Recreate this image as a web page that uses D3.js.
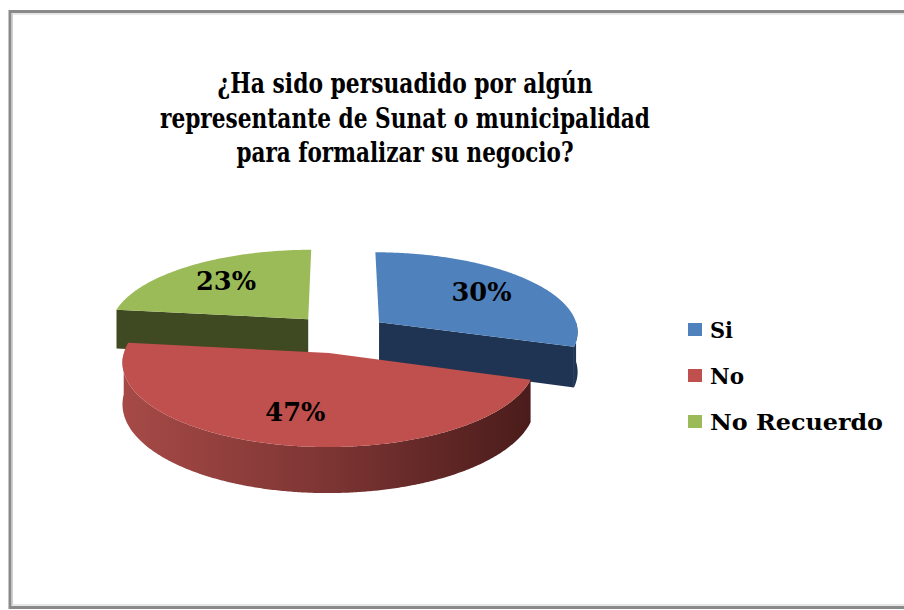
<!DOCTYPE html>
<html>
<head>
<meta charset="utf-8">
<script src="https://cdn.jsdelivr.net/npm/d3@7"></script>
<style>
  html, body { margin: 0; padding: 0; background: #fff; }
  svg { display: block; }
</style>
</head>
<body>
<svg id="chart" width="904" height="610"></svg>
<script>
// ---- data ----
const categories = ["Si", "No", "No Recuerdo"];
const values = [30, 47, 23];
const titleLines = [
  "¿Ha sido persuadido por algún",
  "representante de Sunat o municipalidad",
  "para formalizar su negocio?"
];

// ---- styles ----
const topColors = ["#4f81bd", "#c0504d", "#9bbb59"];
const sideLight = ["#22395a", "#a64a47", "#414c23"];
const sideDark  = ["#1c2f4a", "#4a1c1b", "#3b4520"];
const wallColors = ["#1f3452", "#6e2a28", "#3f4a22"];
const FONT = "'DejaVu Serif', 'Liberation Serif', serif";

const svg = d3.select("#chart");
svg.append("rect").attr("width", 904).attr("height", 610).attr("fill", "#fff");

// frame
svg.append("rect").attr("x", 10).attr("y", 11.5).attr("width", 920).attr("height", 596)
  .attr("fill", "none").attr("stroke", "#8a8a8a").attr("stroke-width", 3);
svg.append("rect").attr("x", 12.5).attr("y", 14).attr("width", 920).attr("height", 591)
  .attr("fill", "none").attr("stroke", "#cfcfcf").attr("stroke-width", 1);

// title
const titleWidths = [375, 490, 337];
const titleBase = [93, 127.5, 162];
titleLines.forEach((t, i) => {
  svg.append("text")
    .attr("x", 405 - titleWidths[i] / 2)
    .attr("y", titleBase[i])
    .attr("font-family", FONT).attr("font-weight", "bold").attr("font-size", 27)
    .attr("fill", "#000")
    .attr("textLength", titleWidths[i]).attr("lengthAdjust", "spacingAndGlyphs")
    .text(t);
});

// ---- 3D pie projection ----
const cx = 340, cy = 333.5, B = 200, A = 79.6, persp = 0.106, H = 40, explode = 0.245;
function proj(u, v, h) {
  const s = 1 / (1 + persp * v);
  return [cx + B * u * s, cy - A * v * s + H * h * s];
}

const pie = d3.pie().sort(null).startAngle(0).endAngle(2 * Math.PI);
const arcs = pie(values).map((d, i) => {
  const m = (d.startAngle + d.endAngle) / 2;
  return { ...d, i, m, ou: explode * Math.sin(m), ov: explode * Math.cos(m) };
});

const defs = svg.append("defs");
arcs.forEach(d => {
  const g = defs.append("linearGradient").attr("id", "side" + d.i)
    .attr("x1", "0%").attr("x2", "100%").attr("y1", "0%").attr("y2", "0%");
  g.append("stop").attr("offset", "0%").attr("stop-color", sideLight[d.i]);
  g.append("stop").attr("offset", "50%").attr("stop-color", d3.interpolateRgb(sideLight[d.i], sideDark[d.i])(0.45));
  g.append("stop").attr("offset", "100%").attr("stop-color", sideDark[d.i]);
});

const line = d3.line();
function pt(d, theta, r, h) {
  return proj(d.ou + r * Math.sin(theta), d.ov + r * Math.cos(theta), h);
}

const pieG = svg.append("g");
const order = arcs.slice().sort((a, b) => b.ov - a.ov);
const eps = 1e-6;
order.forEach(d => {
  const g = pieG.append("g");
  const a0 = d.startAngle, a1 = d.endAngle;
  // radial walls
  if (Math.cos(a0 - Math.PI / 2) < -eps) {
    g.append("path").attr("fill", wallColors[d.i])
      .attr("d", line([pt(d, a0, 0, 0), pt(d, a0, 1, 0), pt(d, a0, 1, 1), pt(d, a0, 0, 1)]) + "Z");
  }
  if (Math.cos(a1 + Math.PI / 2) < -eps) {
    g.append("path").attr("fill", wallColors[d.i])
      .attr("d", line([pt(d, a1, 0, 0), pt(d, a1, 1, 0), pt(d, a1, 1, 1), pt(d, a1, 0, 1)]) + "Z");
  }
  // outer curved wall (front-facing part)
  const n = Math.max(2, Math.ceil((a1 - a0) / (Math.PI / 360)));
  const samples = d3.range(n + 1).map(k => a0 + (a1 - a0) * k / n);
  let seg = [];
  const segs = [];
  samples.forEach(t => {
    if (Math.cos(t) < 0) seg.push(t);
    else { if (seg.length > 1) segs.push(seg); seg = []; }
  });
  if (seg.length > 1) segs.push(seg);
  segs.forEach(s => {
    const topPts = s.map(t => pt(d, t, 1, 0));
    const botPts = s.slice().reverse().map(t => pt(d, t, 1, 1));
    g.append("path").attr("fill", `url(#side${d.i})`)
      .attr("d", line(topPts.concat(botPts)) + "Z");
  });
  // top face
  const topFace = [pt(d, 0, 0, 0)].concat(samples.map(t => pt(d, t, 1, 0)));
  g.append("path").attr("fill", topColors[d.i])
    .attr("d", line(topFace) + "Z");
});

// labels
arcs.forEach(d => {
  const [lx, ly] = pt(d, d.m, 0.68, 0);
  svg.append("text")
    .attr("x", lx - 30).attr("y", ly + 8)
    .attr("font-family", FONT).attr("font-weight", "bold").attr("font-size", 26)
    .attr("fill", "#000")
    .attr("textLength", 60).attr("lengthAdjust", "spacingAndGlyphs")
    .text(values[d.i] + "%");
});

// legend
const legendWidths = [23, 34, 173];
const legend = svg.append("g");
categories.forEach((c, i) => {
  const y = 329.5 + i * 46;
  legend.append("rect").attr("x", 688).attr("y", y - 6.5).attr("width", 14).attr("height", 13)
    .attr("fill", topColors[i]);
  legend.append("text").attr("x", 710).attr("y", y + 8)
    .attr("font-family", FONT).attr("font-weight", "bold").attr("font-size", 23)
    .attr("fill", "#000")
    .attr("textLength", legendWidths[i]).attr("lengthAdjust", "spacingAndGlyphs")
    .text(c);
});
</script>
</body>
</html>
